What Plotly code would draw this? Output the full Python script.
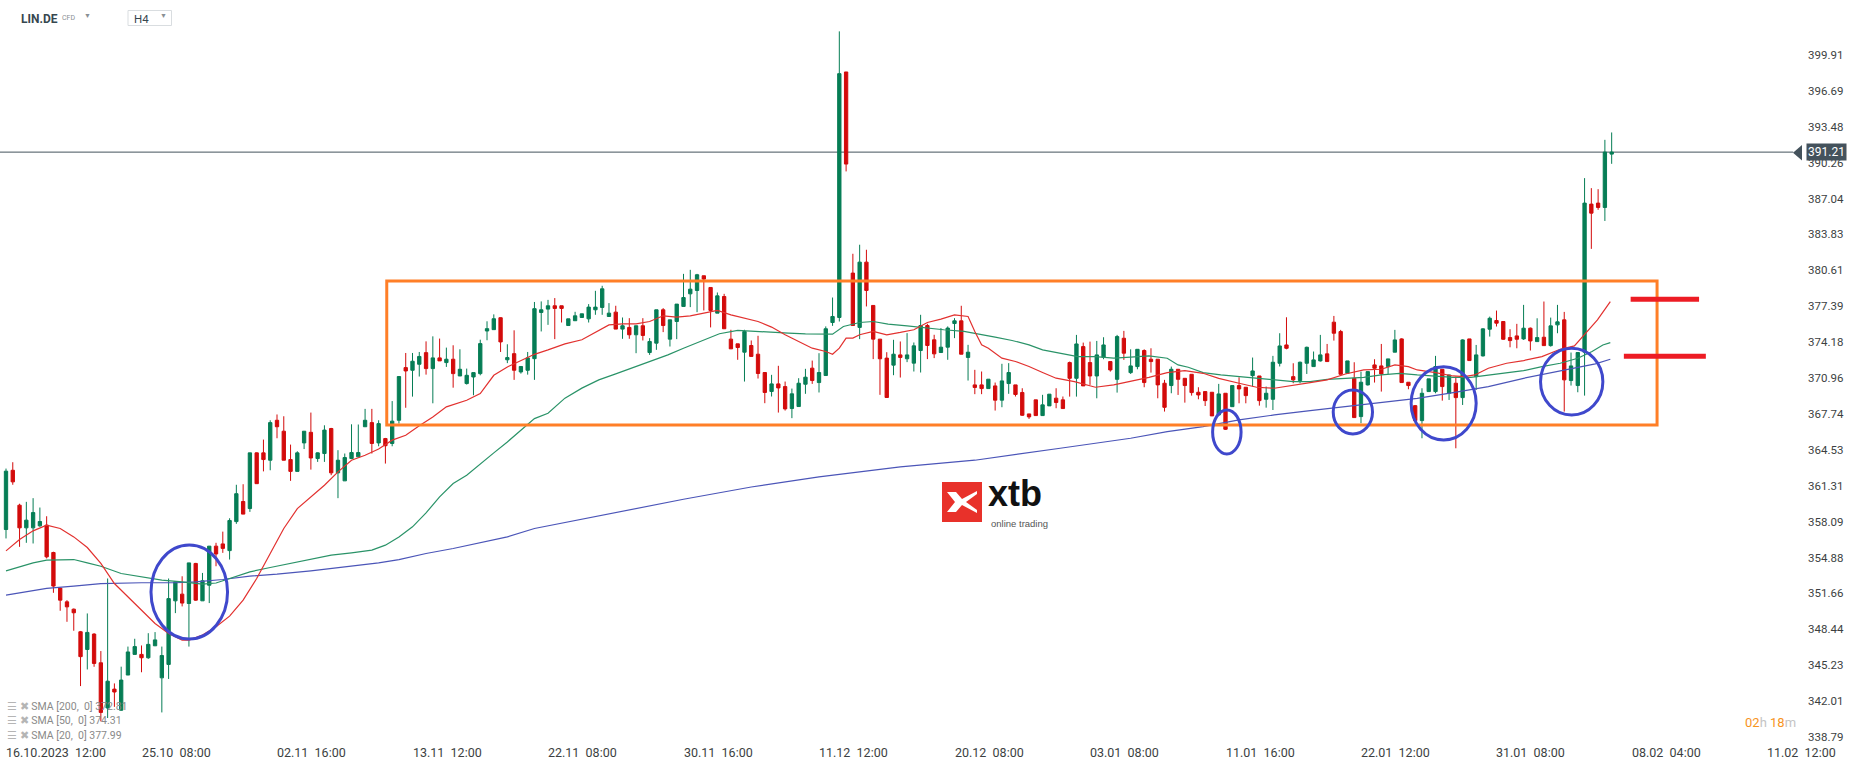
import plotly.graph_objects as go

W, H = 1866, 767

# ---------------- data ----------------
bars = list(range(238))

opens = [
    357.39, 362.70, 359.57, 357.54, 357.54, 357.72, 357.78, 355.33, 352.14, 350.91,
    350.25, 348.23, 346.64, 348.02, 345.45, 341.40, 343.09, 341.20, 344.35, 346.20,
    346.20, 345.90, 346.97, 344.10, 345.30, 351.00, 351.60, 350.76, 354.35, 351.00,
    352.40, 355.90, 356.10, 355.50, 358.10, 359.90, 359.27, 364.26, 364.26, 363.60,
    367.18, 366.20, 363.66, 362.60, 365.15, 366.10, 363.75, 364.20, 366.44, 362.47,
    361.75, 363.75, 363.90, 366.60, 366.97, 365.15, 365.54, 365.10, 367.18, 371.90,
    371.66, 372.20, 373.24, 371.81, 372.77, 372.35, 372.65, 371.15, 370.47, 371.06,
    371.36, 375.18, 375.30, 376.37, 372.60, 373.15, 371.51, 371.66, 372.70, 376.84,
    377.14, 377.44, 377.44, 375.67, 376.10, 376.39, 376.27, 377.08, 377.29, 376.48,
    376.87, 375.35, 375.50, 374.84, 375.65, 373.25, 374.09, 377.08, 374.45, 376.03,
    377.38, 378.51, 378.81, 380.13, 379.08, 376.78, 378.27, 374.45, 374.03, 373.28,
    373.88, 373.10, 371.46, 369.76, 370.44, 370.20, 368.23, 368.41, 370.41, 371.85,
    370.56, 371.19, 375.94, 376.39, 398.39, 380.37, 375.50, 381.35, 377.47, 374.45,
    372.75, 372.12, 373.04, 372.69, 372.30, 373.43, 375.67, 374.39, 373.25, 373.73,
    375.85, 376.09, 372.81, 370.35, 370.35, 370.02, 370.26, 368.98, 370.47, 370.35,
    369.67, 367.75, 369.01, 367.60, 368.47, 369.16, 369.01, 372.35, 370.94, 373.78,
    372.35, 371.15, 372.83, 372.44, 370.85, 374.53, 371.45, 371.99, 373.43, 372.65,
    372.65, 370.50, 370.29, 371.75, 370.94, 371.30, 369.69, 369.75, 369.69, 367.66,
    369.60, 368.40, 370.29, 370.14, 371.18, 371.15, 369.06, 369.06, 372.29, 373.93,
    371.09, 370.74, 372.29, 371.99, 372.50, 373.13, 375.97, 375.13, 371.39, 370.94,
    367.51, 370.35, 372.14, 372.05, 371.99, 373.28, 374.47, 370.59, 368.49, 367.15,
    369.75, 369.75, 371.75, 369.60, 370.50, 369.21, 374.47, 371.09, 372.95, 375.34,
    376.12, 376.03, 374.59, 374.74, 374.47, 375.43, 374.23, 374.62, 373.87, 375.73,
    376.18, 370.74, 370.29, 373.28, 386.55, 386.64, 386.25, 391.03,
]
highs = [
    362.85, 363.42, 359.70, 359.87, 360.20, 359.36, 358.58, 355.40, 352.20, 351.06,
    350.31, 348.30, 349.87, 348.10, 346.50, 353.00, 343.60, 345.10, 346.90, 347.60,
    347.00, 348.10, 348.20, 346.90, 353.00, 352.70, 353.20, 354.40, 354.40, 353.50,
    355.90, 356.20, 357.20, 358.40, 361.40, 361.45, 364.26, 364.30, 365.45, 367.18,
    367.70, 367.54, 365.00, 364.40, 366.20, 367.87, 364.30, 366.73, 366.50, 364.50,
    364.20, 366.82, 366.80, 368.20, 368.20, 367.18, 365.60, 368.90, 371.10, 373.21,
    373.21, 373.30, 374.25, 374.70, 374.50, 373.69, 373.90, 373.54, 371.81, 371.45,
    374.40, 376.05, 376.67, 376.40, 373.99, 375.24, 372.00, 373.30, 377.78, 377.83,
    377.97, 378.13, 377.44, 376.27, 376.90, 376.72, 377.59, 378.78, 379.23, 377.68,
    377.44, 376.39, 376.33, 375.65, 376.33, 374.54, 377.08, 377.23, 376.18, 377.59,
    380.30, 380.66, 380.30, 380.13, 379.08, 378.63, 378.51, 375.29, 374.03, 375.29,
    374.33, 374.75, 371.46, 371.25, 372.06, 370.65, 370.02, 370.95, 371.79, 372.53,
    373.19, 375.59, 378.18, 402.03, 398.39, 382.10, 382.91, 382.46, 377.47, 374.45,
    373.28, 374.39, 374.24, 374.99, 374.15, 376.63, 375.82, 374.84, 375.44, 375.59,
    376.33, 377.44, 373.94, 371.70, 371.55, 370.86, 370.56, 372.24, 372.30, 370.35,
    370.05, 367.75, 369.01, 369.46, 369.52, 370.05, 369.31, 372.44, 374.83, 374.14,
    374.23, 374.29, 374.62, 372.44, 374.83, 375.19, 373.54, 373.54, 373.54, 373.63,
    372.65, 370.80, 371.99, 371.75, 370.94, 371.30, 370.14, 369.75, 369.69, 370.44,
    369.60, 370.29, 371.03, 370.14, 372.80, 371.15, 370.20, 372.95, 374.98, 376.41,
    372.29, 372.44, 373.78, 373.34, 374.83, 374.02, 376.53, 375.28, 372.50, 372.38,
    371.54, 371.54, 372.65, 374.02, 372.68, 375.28, 374.53, 370.59, 368.55, 370.05,
    370.89, 372.95, 371.75, 371.24, 371.09, 374.44, 374.47, 373.93, 375.43, 376.47,
    377.01, 376.03, 375.34, 375.82, 377.52, 375.49, 376.32, 377.82, 376.38, 377.52,
    376.89, 373.25, 373.25, 388.88, 387.98, 387.89, 392.31, 392.97,
]
lows = [
    356.59, 361.40, 355.84, 356.20, 356.14, 357.63, 354.80, 351.72, 350.11, 349.12,
    348.32, 343.36, 344.85, 345.09, 340.20, 340.50, 341.50, 341.15, 344.35, 346.20,
    344.60, 345.80, 346.95, 341.00, 344.00, 349.90, 350.50, 346.90, 351.00, 351.00,
    350.80, 354.10, 355.30, 354.70, 357.90, 358.77, 358.97, 361.50, 362.60, 362.70,
    365.57, 363.60, 361.75, 362.60, 364.60, 362.76, 363.45, 363.45, 362.26, 360.20,
    361.75, 363.70, 363.90, 366.60, 364.20, 364.85, 363.30, 364.85, 366.88, 368.30,
    369.30, 371.10, 371.27, 368.70, 372.50, 371.96, 370.10, 371.15, 370.38, 369.42,
    371.21, 374.35, 375.30, 373.30, 372.30, 370.80, 371.36, 371.27, 370.80, 375.14,
    375.73, 374.45, 375.94, 375.67, 376.10, 376.39, 375.94, 376.63, 376.63, 376.48,
    375.35, 374.48, 374.48, 373.19, 374.33, 373.04, 373.49, 375.08, 373.79, 374.45,
    377.38, 377.32, 376.87, 377.02, 375.50, 376.78, 375.38, 373.58, 372.60, 370.65,
    372.90, 370.92, 368.71, 369.31, 367.87, 368.05, 367.37, 368.41, 369.55, 370.44,
    369.67, 371.19, 375.64, 376.03, 389.48, 375.67, 374.45, 377.38, 372.66, 369.46,
    369.22, 371.22, 371.01, 372.39, 371.55, 371.46, 372.66, 372.75, 373.25, 372.60,
    374.54, 373.10, 370.74, 369.52, 369.52, 370.02, 368.05, 368.35, 369.55, 369.31,
    367.57, 367.30, 367.57, 367.57, 368.47, 368.26, 368.23, 369.30, 369.30, 370.26,
    370.35, 369.15, 372.65, 371.54, 369.66, 372.59, 371.33, 371.75, 370.14, 371.45,
    369.15, 367.96, 369.60, 369.45, 368.76, 369.39, 369.06, 368.46, 367.57, 367.57,
    366.31, 368.40, 368.70, 368.70, 370.20, 368.49, 368.31, 368.10, 372.00, 373.54,
    370.50, 370.50, 371.33, 371.99, 372.44, 372.44, 374.32, 371.30, 371.33, 367.42,
    366.91, 370.29, 370.56, 369.75, 371.33, 373.28, 370.56, 369.96, 367.15, 365.57,
    369.75, 369.60, 368.94, 369.00, 364.67, 368.55, 372.53, 369.90, 372.89, 374.68,
    375.58, 374.38, 373.72, 373.63, 374.38, 373.43, 374.23, 373.87, 373.78, 374.98,
    367.96, 370.29, 369.69, 369.39, 382.54, 386.04, 385.04, 390.16,
]
closes = [
    362.62, 361.66, 357.54, 358.23, 358.91, 358.11, 354.94, 352.32, 351.06, 350.46,
    349.93, 346.00, 348.17, 345.39, 341.00, 343.80, 342.83, 343.90, 346.42, 346.90,
    345.90, 347.10, 347.50, 346.10, 351.20, 352.70, 350.80, 354.40, 351.06, 352.80,
    355.90, 355.20, 355.70, 358.20, 360.60, 358.77, 364.26, 361.50, 363.66, 366.97,
    366.60, 363.60, 362.60, 364.26, 366.20, 363.80, 364.26, 366.30, 362.47, 363.60,
    363.84, 364.29, 364.29, 367.18, 365.10, 366.88, 364.90, 367.10, 371.10, 371.60,
    372.47, 372.90, 371.81, 372.77, 372.50, 372.65, 371.36, 371.75, 371.21, 371.45,
    374.05, 375.39, 376.28, 374.20, 372.80, 371.66, 372.00, 372.77, 377.18, 377.08,
    377.44, 377.20, 377.20, 376.27, 376.54, 376.72, 377.32, 377.32, 378.96, 376.78,
    375.35, 375.65, 374.84, 375.65, 374.78, 374.24, 377.08, 375.67, 376.18, 377.59,
    378.18, 378.93, 380.22, 379.83, 377.02, 378.33, 375.38, 373.58, 373.70, 375.14,
    372.90, 371.37, 369.67, 370.44, 370.08, 368.20, 369.55, 370.50, 371.04, 370.74,
    371.46, 375.38, 376.48, 398.24, 390.14, 375.67, 381.35, 378.81, 374.45, 372.69,
    369.22, 373.10, 372.81, 373.04, 373.85, 375.67, 373.88, 373.13, 373.73, 375.44,
    376.09, 373.10, 373.28, 370.12, 370.02, 370.86, 368.98, 370.71, 371.46, 369.49,
    367.63, 367.48, 367.60, 368.56, 369.52, 368.77, 368.23, 370.94, 374.02, 370.26,
    371.15, 373.04, 373.93, 371.69, 374.68, 373.19, 372.05, 373.54, 370.56, 372.44,
    370.35, 368.34, 371.75, 370.85, 370.29, 369.66, 369.45, 368.94, 367.57, 369.54,
    366.37, 370.29, 369.99, 369.39, 371.60, 368.94, 369.60, 372.38, 373.84, 373.63,
    370.80, 372.38, 373.72, 372.59, 373.04, 372.44, 374.98, 371.30, 372.50, 367.42,
    370.59, 371.54, 371.84, 371.33, 372.68, 374.38, 370.56, 370.29, 367.15, 369.60,
    370.89, 371.99, 370.20, 371.24, 369.21, 374.38, 372.53, 373.04, 375.37, 376.32,
    375.88, 374.44, 374.32, 374.44, 375.43, 374.29, 374.59, 373.87, 375.64, 376.00,
    370.80, 372.05, 373.25, 386.64, 385.74, 386.25, 391.21, 391.21,
]

sma20_x = [0, 2, 4, 6, 8, 10, 12, 14, 16, 18, 20, 22, 24, 26, 27, 29, 31, 33, 35, 37,
           39, 41, 43, 45, 47, 49, 51, 53, 55, 57, 59, 61, 63, 65, 68, 70, 72, 74, 76, 78,
           80, 82.5, 85, 87, 89, 91, 93, 95, 97, 99, 101, 103, 105, 107, 109, 111, 113,
           115, 117, 119, 121, 122, 123, 124, 125, 126, 128, 130, 132, 134, 136, 138,
           140, 142, 143, 144, 145, 147, 149, 151, 153, 155, 157.7, 160.8, 163.5, 166,
           168.7, 171.4, 174, 176.7, 179, 182, 184.6, 187.2, 190, 192.5, 195, 197.7,
           200.4, 203, 205, 207, 208.3, 211, 213.6, 215.2, 216.8, 218.8, 221.5, 224,
           226.7, 229.4, 231.5, 233, 234.9, 236.8]
sma20_y = [355.48, 356.50, 357.27, 357.78, 357.48, 356.73, 355.78, 354.35, 352.55, 351.36,
           350.16, 348.97, 348.08, 347.48, 347.48, 347.93, 348.67, 349.63, 351.06, 353.00,
           355.24, 357.48, 359.27, 360.32, 361.36, 362.56, 363.60, 364.05, 364.60, 365.40,
           365.84, 366.68, 367.48, 368.38, 368.97, 369.57, 371.21, 371.96, 372.55, 373.09,
           373.49, 374.03, 374.39, 375.05, 375.73, 375.82, 375.82, 376.03, 376.54, 376.42,
           376.54, 376.78, 377.02, 376.63, 376.33, 376.03, 375.53, 374.84, 374.24, 373.64,
           373.34, 373.10, 373.64, 374.54, 374.54, 374.84, 375.14, 374.84, 375.05, 375.29,
           375.94, 376.24, 376.63, 376.48, 375.14, 373.94, 373.64, 372.75, 372.45, 372.00,
           371.46, 370.95, 370.65, 370.14, 370.35, 370.65, 371.03, 371.45, 371.63, 371.39,
           370.94, 370.50, 370.14, 370.05, 370.35, 370.56, 370.80, 371.33, 371.69, 371.75,
           372.14, 371.99, 371.69, 371.45, 371.15, 371.09, 371.24, 371.84, 372.29, 372.53,
           372.89, 373.54, 373.84, 374.83, 376.18, 377.82]

sma50_x = [0, 2, 4, 6, 8, 10, 12, 14, 17, 20, 23, 26, 29, 31, 33, 36, 39, 42, 45, 48,
           51, 54, 56, 58, 60, 62, 64, 66, 68, 70, 72, 74, 76, 78, 80, 82.5, 85, 87.5, 90,
           92.6, 95, 97.7, 100, 103, 105.3, 108, 110.4, 113, 115.5, 118, 120.6, 122,
           123.6, 126, 128, 130.2, 133, 135.8, 138.4, 141.4, 143.5, 146, 148.5, 151, 153,
           155, 158.2, 160.8, 163.5, 166, 168.7, 171.4, 173, 174.5, 176.7, 179.3, 182,
           184.6, 187.2, 190, 192.5, 195, 197.7, 200.4, 203, 205.7, 208.3, 211, 213.6,
           216.2, 218.8, 221.5, 224, 226.7, 229.4, 232, 234.1, 235.7, 236.8]
sma50_y = [353.69, 354.05, 354.40, 354.64, 354.64, 354.70, 354.40, 354.10, 353.45, 353.15,
           352.85, 352.70, 352.50, 352.60, 353.00, 353.60, 353.99, 354.35, 354.73, 355.09,
           355.30, 355.54, 355.99, 356.73, 357.63, 358.88, 360.32, 361.51, 362.26, 363.30,
           364.26, 365.24, 366.29, 367.33, 367.81, 369.16, 370.06, 370.80, 371.34, 371.91,
           372.45, 373.04, 373.64, 374.39, 374.93, 375.23, 375.14, 375.08, 374.99, 374.93,
           374.90, 374.90, 375.58, 375.94, 376.03, 375.79, 375.64, 375.44, 375.29, 375.14,
           374.93, 374.63, 374.33, 373.94, 373.49, 373.25, 372.89, 372.89, 372.74, 372.83,
           372.95, 372.74, 372.14, 371.93, 371.45, 371.24, 371.09, 370.94, 370.85, 370.65,
           370.65, 370.85, 370.94, 371.03, 371.24, 371.39, 371.24, 371.15, 371.03, 371.03,
           371.24, 371.45, 371.63, 371.99, 372.29, 372.74, 373.34, 373.93, 374.14]

sma200_x = [0, 3, 6, 10, 14, 20, 25, 28, 32, 36, 40, 45, 50, 55, 58, 62, 66, 70, 74, 78,
            90, 100, 110, 120, 132, 143, 155.6, 160.8, 166, 171.4, 176.7, 182, 187.2,
            192.5, 197.7, 203, 208.3, 213.6, 218.8, 224, 229.4, 234.6, 236.8]
sma200_y = [351.51, 351.81, 352.11, 352.32, 352.55, 352.62, 352.62, 352.70, 352.91, 353.21,
            353.39, 353.69, 354.05, 354.40, 354.70, 355.24, 355.69, 356.20, 356.73, 357.48,
            358.90, 360.10, 361.20, 362.10, 363.00, 363.60, 364.67, 365.12, 365.57, 366.16,
            366.61, 367.21, 367.66, 368.05, 368.40, 368.76, 369.15, 369.66, 370.20, 370.94,
            371.63, 372.23, 372.65]

x_tick_bars = [0, 20, 40, 60, 80, 100, 120, 140, 160, 180, 200, 220, 240, 260]
x_tick_text = ["16.10.2023  12:00", "25.10  08:00", "02.11  16:00", "13.11  12:00",
               "22.11  08:00", "30.11  16:00", "11.12  12:00", "20.12  08:00",
               "03.01  08:00", "11.01  16:00", "22.01  12:00", "31.01  08:00",
               "08.02  04:00", "11.02  12:00"]
y_ticks = [399.91, 396.69, 393.48, 390.26, 387.04, 383.83, 380.61, 377.39, 374.18, 370.96,
           367.74, 364.53, 361.31, 358.09, 354.88, 351.66, 348.44, 345.23, 342.01, 338.79]

last_price = 391.21
legend_rows = ["SMA [200,  0] 372.81", "SMA [50,  0] 374.31", "SMA [20,  0] 377.99"]

# analyst drawings (bar index / price units)
box = dict(x0=56.2, x1=243.7, y0=366.76, y1=379.66)
ellipses = [(21.4, 32.7, 347.58, 356.0), (178.1, 182.3, 364.16, 368.1),
            (195.9, 201.7, 365.95, 369.9), (207.4, 217.0, 365.41, 371.98),
            (226.5, 235.7, 367.65, 373.63)]
red_marks = [(239.8, 249.9, 378.02), (238.8, 250.9, 372.91)]

# ---------------- style ----------------
GREEN = "#067d55"
RED = "#d30b0b"
FONT = "Roboto"
X_RANGE = [-0.886, 274.54]
Y_RANGE = [336.11, 404.84]


def px(x):
    return x / W


def py(y):
    return 1 - y / H


fig = go.Figure()
fig.add_trace(go.Candlestick(
    x=bars, open=opens, high=highs, low=lows, close=closes,
    increasing=dict(line=dict(color=GREEN, width=1), fillcolor=GREEN),
    decreasing=dict(line=dict(color=RED, width=1), fillcolor=RED),
    whiskerwidth=0, hoverinfo="skip", showlegend=False))

for xs, ys, col in [(sma200_x, sma200_y, "#4b55b8"), (sma50_x, sma50_y, "#2a9368"),
                    (sma20_x, sma20_y, "#e2312f")]:
    fig.add_trace(go.Scatter(x=xs, y=ys, mode="lines", line=dict(color=col, width=1.2),
                             hoverinfo="skip", showlegend=False))

shapes = []
shapes.append(dict(type="line", xref="x", yref="y", x0=X_RANGE[0], x1=263.8,
                   y0=last_price, y1=last_price, line=dict(color="#44525c", width=1),
                   layer="below"))
shapes.append(dict(type="rect", xref="x", yref="y", line=dict(color="#ff7f27", width=3),
                   **box))
for x0, x1, y0, y1 in ellipses:
    shapes.append(dict(type="circle", xref="x", yref="y", x0=x0, x1=x1, y0=y0, y1=y1,
                       line=dict(color="#3f48cc", width=3)))
for x0, x1, yv in red_marks:
    shapes.append(dict(type="line", xref="x", yref="y", x0=x0, x1=x1, y0=yv, y1=yv,
                       line=dict(color="#ed1c24", width=5)))
# price tag arrow
shapes.append(dict(type="path", xref="paper", yref="paper",
                   path=f"M {px(1793)} {py(152.7)} L {px(1802)} {py(145)} L {px(1802)} {py(160.5)} Z",
                   fillcolor="#44525c", line=dict(width=0)))
# xtb logo
shapes.append(dict(type="rect", xref="paper", yref="paper", x0=px(942), x1=px(982),
                   y0=py(522), y1=py(482), fillcolor="#e8312a", line=dict(width=0)))
logo_pts = [(947, 492), (956, 492), (962, 499), (977, 491), (977, 494), (966, 502),
            (977, 510), (977, 513), (962, 505), (956, 512), (947, 512), (955, 502)]
path = "M " + " L ".join(f"{px(a)} {py(b)}" for a, b in logo_pts) + " Z"
shapes.append(dict(type="path", xref="paper", yref="paper", path=path,
                   fillcolor="white", line=dict(width=0)))
# H4 box
shapes.append(dict(type="rect", xref="paper", yref="paper", x0=px(128), x1=px(171.5),
                   y0=py(25.5), y1=py(10.5), line=dict(color="#d9dde0", width=1)))

ann = []
for v in y_ticks:
    ann.append(dict(xref="paper", yref="y", x=px(1806), y=v, xanchor="left",
                    yanchor="middle", text=f"{v:.2f}", showarrow=False,
                    font=dict(family=FONT, size=11.5, color="#3c3f42")))
ann.append(dict(xref="paper", yref="y", x=px(1826), y=last_price, xanchor="center",
                yanchor="middle", text=f"{last_price:.2f}", showarrow=False,
                bgcolor="#44525c", borderpad=1,
                font=dict(family=FONT, size=12, color="white")))
for b, t in zip(x_tick_bars, x_tick_text):
    ann.append(dict(xref="x", yref="paper", x=b, y=py(752), xanchor="left",
                    yanchor="middle", text=t.replace(" ", "\u00a0"), showarrow=False,
                    xshift=-2, font=dict(family=FONT, size=12.5, color="#3c3f42")))
for i, t in enumerate(legend_rows):
    ann.append(dict(xref="paper", yref="paper", x=px(5), y=py(706.5 + 14.3 * i),
                    xanchor="left", yanchor="middle",
                    text="<span style='color:#b5b5b5'>\u2630 \u2716</span> " + t.replace("  ", "\u00a0 "),
                    showarrow=False, font=dict(family=FONT, size=10.5, color="#8a8a8a")))
ann.append(dict(xref="paper", yref="paper", x=px(1798), y=py(722.5), xanchor="right",
                yanchor="middle", showarrow=False,
                text="<span style='color:#f7941d'>02</span><span style='color:#c4c4c4'>h</span> "
                     "<span style='color:#f7941d'>18</span><span style='color:#c4c4c4'>m</span>",
                font=dict(family=FONT, size=13)))
ann.append(dict(xref="paper", yref="paper", x=px(19), y=py(19), xanchor="left",
                yanchor="middle", showarrow=False,
                text="<b>LIN.DE</b>", font=dict(family=FONT, size=12, color="#37474f")))
ann.append(dict(xref="paper", yref="paper", x=px(60), y=py(18.5), xanchor="left",
                yanchor="middle", showarrow=False, text="CFD",
                font=dict(family=FONT, size=7, color="#8a8f94")))
ann.append(dict(xref="paper", yref="paper", x=px(82), y=py(16), xanchor="left",
                yanchor="middle", showarrow=False, text="\u25bc",
                font=dict(family=FONT, size=7, color="#8a8f94")))
ann.append(dict(xref="paper", yref="paper", x=px(132), y=py(19), xanchor="left",
                yanchor="middle", showarrow=False, text="H4",
                font=dict(family=FONT, size=11.5, color="#37474f")))
ann.append(dict(xref="paper", yref="paper", x=px(158), y=py(16), xanchor="left",
                yanchor="middle", showarrow=False, text="\u25bc",
                font=dict(family=FONT, size=7, color="#8a8f94")))
ann.append(dict(xref="paper", yref="paper", x=px(986), y=py(516), xanchor="left",
                yanchor="bottom", showarrow=False, text="<b>xtb</b>",
                font=dict(family="Liberation Sans", size=36, color="#111111")))
ann.append(dict(xref="paper", yref="paper", x=px(989), y=py(516), xanchor="left",
                yanchor="top", showarrow=False, text="online trading",
                font=dict(family="Liberation Sans", size=9.5, color="#555555")))

fig.update_layout(
    width=W, height=H, autosize=False,
    margin=dict(l=0, r=0, t=0, b=0),
    paper_bgcolor="white", plot_bgcolor="white",
    boxgap=0.3,
    xaxis=dict(range=X_RANGE, visible=False, rangeslider=dict(visible=False),
               fixedrange=True),
    yaxis=dict(range=Y_RANGE, visible=False, fixedrange=True),
    shapes=shapes, annotations=ann, showlegend=False, hovermode=False,
)

fig.write_html("out.html", config={"displayModeBar": False},
               post_script="document.body.style.margin='0';document.body.style.overflow='hidden';")
